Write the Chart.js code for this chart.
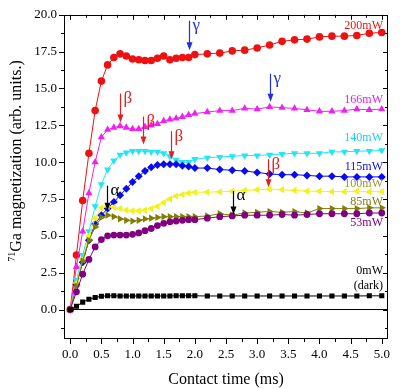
<!DOCTYPE html>
<html>
<head>
<meta charset="utf-8">
<script src="https://cdn.jsdelivr.net/npm/chart.js@4/dist/chart.umd.min.js"></script>
<style>
  body { margin: 0; background: #fff; }
  #wrap { width: 400px; height: 389px; }
</style>
</head>
<body>
<div id="wrap"><canvas id="ga_chart"></canvas></div>
<script>
// contact time (ms): 0.1 steps up to 2.0, then 0.2 steps
var time = [0, 0.1, 0.2, 0.3, 0.4, 0.5, 0.6, 0.7, 0.8, 0.9, 1.0, 1.1, 1.2, 1.3, 1.4, 1.5, 1.6, 1.7, 1.8, 1.9, 2.0,
            2.2, 2.4, 2.6, 2.8, 3.0, 3.2, 3.4, 3.6, 3.8, 4.0, 4.2, 4.4, 4.6, 4.8, 5.0];

var mw200 = [0, 3.7, 7.4, 10.6, 13.5, 15.5, 16.6, 17.1, 17.35, 17.2, 17.0, 16.95, 16.9, 16.9, 17.05, 17.2, 16.95, 17.05, 17.1, 17.1, 17.3,
             17.35, 17.4, 17.55, 17.6, 17.75, 17.95, 18.2, 18.3, 18.35, 18.5, 18.55, 18.55, 18.6, 18.75, 18.8];
var mw166 = [0, 2.9, 5.3, 7.9, 10.0, 11.7, 12.2, 12.35, 12.45, 12.35, 12.25, 12.25, 12.4, 12.5, 12.6, 12.8, 12.9, 12.97, 13.08, 13.2, 13.3,
             13.4, 13.5, 13.5, 13.65, 13.6, 13.75, 13.7, 13.65, 13.55, 13.45, 13.45, 13.5, 13.6, 13.55, 13.6];
var mw140 = [0, 2.0, 3.7, 5.3, 7.0, 8.5, 9.5, 10.1, 10.5, 10.65, 10.75, 10.75, 10.75, 10.7, 10.7, 10.6, 10.4, 10.15, 10.0, 10.0, 10.2,
             10.3, 10.35, 10.4, 10.45, 10.45, 10.5, 10.55, 10.6, 10.6, 10.6, 10.7, 10.7, 10.75, 10.75, 10.8];
var mw115 = [0, 1.7, 3.2, 4.7, 5.8, 6.4, 6.85, 7.3, 7.75, 8.2, 8.65, 9.05, 9.4, 9.65, 9.8, 9.85, 9.85, 9.85, 9.75, 9.7, 9.6,
             9.6, 9.5, 9.45, 9.4, 9.3, 9.2, 9.15, 9.15, 9.1, 9.05, 9.05, 9.0, 9.0, 9.0, 9.0];
var mw100 = [0, 1.8, 3.4, 5.0, 6.2, 6.9, 7.0, 6.95, 6.85, 6.75, 6.7, 6.7, 6.75, 6.85, 7.0, 7.25, 7.5, 7.7, 7.8, 7.9, 7.95,
             7.97, 7.99, 8.03, 8.08, 8.13, 8.17, 8.13, 8.08, 8.03, 8.03, 8.0, 8.0, 8.03, 8.0, 8.0];
var mw85 = [0, 1.6, 3.3, 4.7, 5.6, 6.25, 6.4, 6.3, 6.15, 6.05, 6.0, 6.05, 6.15, 6.2, 6.25, 6.3, 6.3, 6.3, 6.3, 6.3, 6.3,
            6.35, 6.5, 6.4, 6.55, 6.6, 6.65, 6.6, 6.65, 6.55, 6.85, 6.85, 6.85, 6.85, 6.9, 6.9];
var mw53 = [0, 1.2, 2.4, 3.4, 4.25, 4.75, 5.0, 5.05, 5.05, 5.05, 5.1, 5.2, 5.35, 5.5, 5.7, 5.85, 5.95, 6.0, 6.05, 6.1, 6.1,
            6.2, 6.3, 6.35, 6.4, 6.4, 6.4, 6.45, 6.4, 6.45, 6.5, 6.5, 6.5, 6.5, 6.55, 6.55];
var mw0 = [0, 0.22, 0.5, 0.7, 0.82, 0.9, 0.93, 0.93, 0.92, 0.92, 0.92, 0.92, 0.92, 0.92, 0.92, 0.92, 0.92, 0.93, 0.93, 0.93, 0.93,
           0.92, 0.92, 0.92, 0.92, 0.92, 0.92, 0.92, 0.92, 0.92, 0.92, 0.92, 0.92, 0.92, 0.93, 0.93];

var xTicks = [0, 0.5, 1.0, 1.5, 2.0, 2.5, 3.0, 3.5, 4.0, 4.5, 5.0];
var yTicks = [0, 2.5, 5.0, 7.5, 10.0, 12.5, 15.0, 17.5, 20.0];

var serif = "'Liberation Serif', 'Times New Roman', serif";

// series labels on the right side: [text, colour, y value]
var seriesLabels = [
  ['200mW', '#ee1111', 19.28],
  ['166mW', '#dd22dd', 14.23],
  ['140mW', '#22ccee', 11.67],
  ['115mW', '#1111cc', 9.7],
  ['100mW', '#99992a', 8.5],
  ['85mW', '#7d7d10', 7.3],
  ['53mW', '#800080', 5.85],
  ['0mW', '#000000', 2.65],
  ['(dark)', '#000000', 1.64]
];

// arrows: [symbol, colour, x, y from, y to]
var arrows = [
  ['\u03b3', '#1f2fdd', 1.9, 19.6, 17.6],
  ['\u03b3', '#1f2fdd', 3.2, 16.0, 14.1],
  ['\u03b2', '#dd2222', 0.8, 14.65, 12.7],
  ['\u03b2', '#dd2222', 1.17, 13.1, 11.2],
  ['\u03b2', '#dd2222', 1.61, 12.1, 10.2],
  ['\u03b2', '#dd2222', 3.18, 10.2, 8.3],
  ['\u03b1', '#000000', 0.59, 8.4, 6.7],
  ['\u03b1', '#000000', 2.61, 8.05, 6.45]
];

var make_points = function(values){
  return values.map(function(v, i){ return {x: time[i], y: v}; });
};

var make_set = function(values, color, style, rotation, radius){
  return {
    data: make_points(values),
    borderColor: color,
    backgroundColor: color,
    borderWidth: 1,
    pointStyle: style,
    pointRotation: rotation,
    pointRadius: radius,
    pointBorderWidth: 0,
    tension: 0
  };
};

var isStep = function(v, step){
  return Math.abs(v / step - Math.round(v / step)) < 1e-6;
};

var frame_plugin = {
  id: 'frame_plugin',
  afterDraw: function(chart){
    var ctx = chart.ctx, a = chart.chartArea;
    var xs = chart.scales.x, ys = chart.scales.y;
    ctx.save();
    ctx.strokeStyle = '#000';
    ctx.lineWidth = 1;
    ctx.strokeRect(Math.round(a.left) + 0.5, Math.round(a.top) + 0.5,
                   Math.round(a.right - a.left) - 1, Math.round(a.bottom - a.top) - 1);

    ctx.beginPath();
    for (var v = 0; v <= 5.0001; v += 0.25) {
      var px = Math.round(xs.getPixelForValue(v)) + 0.5;
      var len = isStep(v, 0.5) ? 5 : 3;
      ctx.moveTo(px, a.bottom); ctx.lineTo(px, a.bottom + len);
      ctx.moveTo(px, a.top); ctx.lineTo(px, a.top + len);
    }
    for (var w = -1.25; w <= 20.0001; w += 1.25) {
      var py = Math.round(ys.getPixelForValue(w)) + 0.5;
      var l2 = isStep(w, 2.5) ? 5 : 3;
      ctx.moveTo(a.left - l2, py); ctx.lineTo(a.left, py);
      ctx.moveTo(a.right - l2, py); ctx.lineTo(a.right, py);
    }
    ctx.stroke();

    // y axis title with a real superscript
    ctx.save();
    ctx.translate(17, 161);
    ctx.rotate(-Math.PI / 2);
    ctx.fillStyle = '#000';
    ctx.textBaseline = 'middle';
    ctx.font = '16px ' + serif;
    var main = 'Ga magnetization (arb. units.)';
    ctx.font = '10px ' + serif;
    var supW = ctx.measureText('71').width;
    ctx.font = '16px ' + serif;
    var mainW = ctx.measureText(main).width;
    var start = -(supW + mainW) / 2;
    ctx.textAlign = 'left';
    ctx.font = '10px ' + serif;
    ctx.fillText('71', start, -5);
    ctx.font = '16px ' + serif;
    ctx.fillText(main, start + supW, 0);
    ctx.restore();

    ctx.font = '12px ' + serif;
    ctx.textAlign = 'right';
    ctx.textBaseline = 'middle';
    seriesLabels.forEach(function(s){
      ctx.fillStyle = s[1];
      ctx.fillText(s[0], xs.getPixelForValue(5.02), ys.getPixelForValue(s[2]));
    });

    ctx.font = '17px ' + serif;
    ctx.textAlign = 'left';
    arrows.forEach(function(ar){
      var x = Math.round(xs.getPixelForValue(ar[2])) + 0.5;
      var y1 = ys.getPixelForValue(ar[3]), y2 = ys.getPixelForValue(ar[4]);
      ctx.strokeStyle = ar[1];
      ctx.fillStyle = ar[1];
      ctx.lineWidth = 1.2;
      ctx.beginPath();
      ctx.moveTo(x, y1); ctx.lineTo(x, y2 - 6);
      ctx.stroke();
      ctx.beginPath();
      ctx.moveTo(x - 3, y2 - 8); ctx.lineTo(x + 3, y2 - 8); ctx.lineTo(x, y2);
      ctx.closePath();
      ctx.fill();
      ctx.fillText(ar[0], x + 3, y1 + 5);
    });
    ctx.restore();
  }
};

var ctx = document.getElementById('ga_chart').getContext('2d');
var ga_chart = new Chart(ctx, {
  type: 'line',
  data: {
    datasets: [
      {data: [{x: 0, y: 0}, {x: 5.2, y: 0}], borderColor: '#000', borderWidth: 1, pointRadius: 0},
      make_set(mw0, '#000000', 'rect', 0, 3.6),
      make_set(mw53, '#800080', 'circle', 0, 3.4),
      make_set(mw85, '#808000', 'triangle', 90, 4.2),
      make_set(mw100, '#f2f21a', 'triangle', 270, 4.2),
      make_set(mw115, '#0a0aee', 'rectRot', 0, 4),
      make_set(mw140, '#22e6f6', 'triangle', 180, 4.2),
      make_set(mw166, '#ee22ee', 'triangle', 0, 4.2),
      make_set(mw200, '#ee1111', 'circle', 0, 3.8)
    ]
  },
  options: {
    responsive: true,
    maintainAspectRatio: false,
    animation: false,
    layout: { padding: { top: 12, right: 12, left: 0, bottom: 0 } },
    plugins: {
      legend: { display: false },
      tooltip: { enabled: false }
    },
    scales: {
      x: {
        type: 'linear',
        min: -0.1,
        max: 5.1,
        afterFit: function(scale){ scale.height = 50; },
        afterBuildTicks: function(scale){
          scale.ticks = xTicks.map(function(v){ return {value: v}; });
        },
        grid: { display: false, drawTicks: false },
        border: { display: false },
        ticks: {
          autoSkip: false,
          maxRotation: 0,
          padding: 8,
          color: '#000',
          font: { family: serif, size: 13 },
          callback: function(v){ return Number(v).toFixed(1); }
        },
        title: {
          display: true,
          text: 'Contact time (ms)',
          color: '#000',
          font: { family: serif, size: 16 },
          padding: { top: 0, bottom: 0 }
        }
      },
      y: {
        min: -2,
        max: 20,
        afterFit: function(scale){ scale.width = 64; },
        afterBuildTicks: function(scale){
          scale.ticks = yTicks.map(function(v){ return {value: v}; });
        },
        grid: { display: false, drawTicks: false },
        border: { display: false },
        ticks: {
          autoSkip: false,
          padding: 7,
          color: '#000',
          font: { family: serif, size: 13 },
          callback: function(v){ return Number(v).toFixed(1); }
        }
      }
    }
  },
  plugins: [frame_plugin]
});
</script>
</body>
</html>
